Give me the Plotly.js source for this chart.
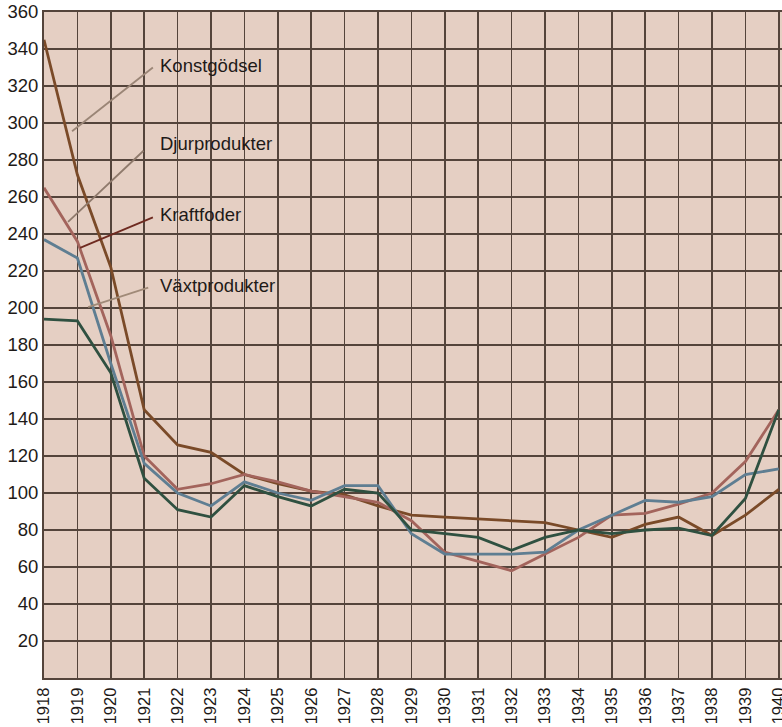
<!DOCTYPE html>
<html>
<head>
<meta charset="utf-8">
<script src="https://cdn.plot.ly/plotly-3.0.1.min.js"></script>
<style>
  html, body { margin: 0; padding: 0; background: #ffffff; overflow: hidden; }
  #chart { width: 782px; height: 727px; }
</style>
</head>
<body>
<div id="chart"></div>
<script>
// ---- data (index values) ----
var years = [1918,1919,1920,1921,1922,1923,1924,1925,1926,1927,1928,1929,1930,1931,1932,1933,1934,1935,1936,1937,1938,1939,1940];
var konstgodsel   = [345,272,222,145,126,122,110,105,101, 99, 93, 88, 87, 86, 85, 84, 80, 76, 83, 87, 77, 88,102];
var djurprodukter = [265,236,185,120,102,105,110,106,101, 98, 95, 85, 68, 63, 58, 67, 76, 88, 89, 94,100,117,145];
var kraftfoder    = [237,227,170,116,100, 93,106,100, 96,104,104, 78, 67, 67, 67, 68, 80, 88, 96, 95, 98,110,113];
var vaxtprodukter = [194,193,165,108, 91, 87,104, 98, 93,102,100, 80, 78, 76, 69, 76, 80, 78, 80, 81, 77, 97,145];
var yTicks = [20,40,60,80,100,120,140,160,180,200,220,240,260,280,300,320,340,360];
var seriesNames = ['Konstgödsel','Djurprodukter','Kraftfoder','Växtprodukter'];

// ---- styling ----
var colors = ['#7a4a28', '#a3645c', '#5f7e92', '#2f5040'];
var grid = '#54443b';
var fontFam = 'Liberation Sans, Arial, Helvetica, sans-serif';

var allSeries = [konstgodsel, djurprodukter, kraftfoder, vaxtprodukter];
var traces = allSeries.map(function (vals, i) {
  return {
    x: years, y: vals, type: 'scatter', mode: 'lines', name: seriesNames[i],
    line: { color: colors[i], width: 2.8 }, hoverinfo: 'x+y+name'
  };
});

// label anchor points (data coords) and leader lines
var labelPos = [
  { text: seriesNames[0], x: 1921.42, y: 331, tipX: 1918.84, tipY: 295.5, tailX: 1921.26, tailY: 330 },
  { text: seriesNames[1], x: 1921.42, y: 289, tipX: 1918.72, tipY: 246.5, tailX: 1920.98, tailY: 285 },
  { text: seriesNames[2], x: 1921.42, y: 250.5, tipX: 1919.08, tipY: 232.5, tailX: 1921.26, tailY: 249 },
  { text: seriesNames[3], x: 1921.42, y: 212, tipX: 1919.32, tipY: 200.5, tailX: 1921.12, tailY: 211 }
];
var leaderColors = ['#9a8576', '#8f7a6c', '#6e2a20', '#a08a78'];

var annotations = labelPos.map(function (p) {
  return {
    x: p.x, y: p.y, xref: 'x', yref: 'y', text: p.text, showarrow: false,
    xanchor: 'left', yanchor: 'middle',
    font: { family: fontFam, size: 18.5, color: '#1e1a18' }
  };
});
var shapes = labelPos.map(function (p, i) {
  return {
    type: 'line', xref: 'x', yref: 'y', x0: p.tailX, y0: p.tailY, x1: p.tipX, y1: p.tipY,
    line: { color: leaderColors[i], width: 1.8 }
  };
});

var layout = {
  width: 782, height: 727,
  margin: { l: 44, r: 0, t: 12, b: 49 },
  paper_bgcolor: '#ffffff',
  plot_bgcolor: '#e5cfc3',
  showlegend: false,
  xaxis: {
    range: [1918, 1940.096], tickmode: 'array', tickvals: years, ticktext: years.map(String),
    tickangle: -90, showgrid: true, gridcolor: grid, gridwidth: 1.7,
    zeroline: false, showline: true, linecolor: grid, linewidth: 2, mirror: true,
    ticks: '', ticklabeloverflow: 'allow', ticklabelstandoff: 1,
    tickfont: { family: fontFam, size: 16.5, color: '#1e1a18' }
  },
  yaxis: {
    range: [0, 360], tickmode: 'array', tickvals: yTicks, ticktext: yTicks.map(String),
    showgrid: true, gridcolor: grid, gridwidth: 1.7, zeroline: false,
    showline: true, linecolor: grid, linewidth: 2, mirror: true, ticks: '',
    ticklabeloverflow: 'allow',
    tickfont: { family: fontFam, size: 18.5, color: '#1e1a18' }
  },
  annotations: annotations,
  shapes: shapes
};

Plotly.newPlot('chart', traces, layout, { displayModeBar: false, staticPlot: true });
</script>
</body>
</html>
